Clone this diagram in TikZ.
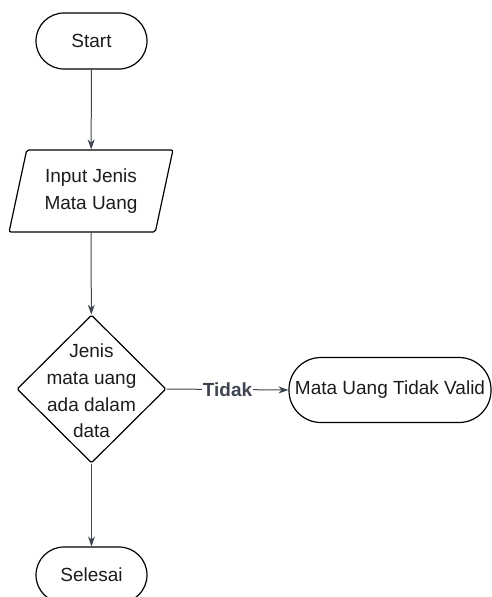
\documentclass[tikz,border=0pt]{standalone}
\usepackage{fontspec}
\setmainfont{Liberation Sans}
\usetikzlibrary{shapes.geometric,arrows.meta}
\definecolor{linec}{HTML}{3F4550}
\definecolor{textc}{HTML}{1C1C1C}
\tikzset{
  x=1pt,y=1pt,
  every node/.style={font=\fontsize{19}{26.7}\selectfont, text=textc},
  terminal/.style={draw=black, line width=1.2pt, rectangle, rounded corners=#1, inner sep=0pt},
  iobox/.style={draw=black, line width=1.2pt, trapezium, trapezium left angle=74, trapezium right angle=106,
    trapezium stretches=true, minimum width=164pt, minimum height=82pt, inner sep=0pt, rounded corners=2pt, align=center},
  decision/.style={draw=black, line width=1.2pt, diamond, minimum width=149pt, minimum height=148pt, inner sep=0pt, rounded corners=1.5pt},
  flow/.style={draw=linec, line width=1pt, -{Stealth[length=10pt,width=7pt]}},
  lbl/.style={font=\fontsize{19}{20}\bfseries\selectfont, text=linec, fill=white, inner sep=1pt}
}
\begin{document}
\begin{tikzpicture}
\useasboundingbox (0,0) rectangle (492,-597);
\node[terminal=28pt, minimum width=111pt, minimum height=56pt] (start) at (91.5,-41) {Start};
\node[iobox] (input) at (91,-191) {Input Jenis\\Mata Uang};
\node[decision] (dec) at (91.5,-389) {};
\node[align=center] (dectext) at (91.5,-391) {Jenis\\mata uang\\ada dalam\\data};
\node[terminal=32pt, minimum width=202pt, minimum height=65pt] (invalid) at (390,-390) {Mata Uang Tidak Valid};
\node[terminal=28pt, minimum width=111pt, minimum height=56pt] (end) at (91.5,-575) {Selesai};
\draw[flow] (start) -- (input);
\draw[flow] (input) -- (dec);
\draw[flow] (dec.east) -- node[lbl] {Tidak} (invalid.west);
\draw[flow] (dec.south) -- (end.north);
\end{tikzpicture}
\end{document}
